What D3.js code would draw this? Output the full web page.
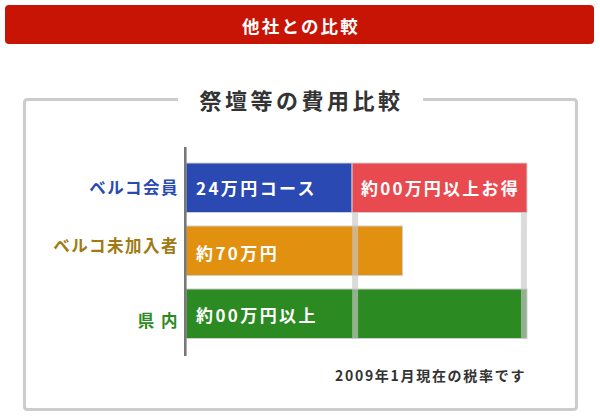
<!DOCTYPE html>
<html><head><meta charset="utf-8">
<script src="https://cdn.jsdelivr.net/npm/d3@7"></script>
<style>
html,body{margin:0;padding:0;background:#fff;}
svg{display:block;font-family:"Noto Sans CJK JP","Noto Sans",sans-serif;}
</style></head>
<body>
<svg id="c" width="600" height="420"></svg>
<script>
// ---- data ----
const headerTitle = "他社との比較";
const chartTitle = "祭壇等の費用比較";
const categories = ["ベルコ会員", "ベルコ未加入者", "県 内"];
const categoryColors = ["#2a49b2", "#a07a12", "#2c8a22"];
// bar segments, in chart units (0-100 of the axis length)
const baseValues = [48.7, 63.5, 100];
const baseLabels = ["24万円コース", "約70万円", "約00万円以上"];
const baseColors = ["#2a49b2", "#e29010", "#2c8a22"];
const extraValues = [51.3, 0, 0];      // the 'savings' segment stacked after the base
const extraLabels = ["約00万円以上お得", "", ""];
const extraColor = "#e94a50";
const gridValues = [49.6, 99.1];
const footnote = "2009年1月現在の税率です";

const svg = d3.select("#c");

// header
svg.append("rect").attr("x",5).attr("y",5).attr("width",589).attr("height",39)
  .attr("rx",4).attr("fill","#c81404");
svg.append("text").attr("x",301).attr("y",25).attr("text-anchor","middle")
  .attr("dominant-baseline","central").attr("fill","#fff")
  .attr("font-size",17.5).attr("font-weight","bold").attr("letter-spacing",2.2).text(headerTitle);

// frame
svg.append("path")
  .attr("d","M178,99.5 H27.5 Q24.5,99.5 24.5,102.5 V406.5 Q24.5,409.5 27.5,409.5 H573.5 Q576.5,409.5 576.5,406.5 V102.5 Q576.5,99.5 573.5,99.5 H423")
  .attr("fill","none").attr("stroke","#cccccc").attr("stroke-width",3);
svg.append("text").attr("x",301.5).attr("y",99).attr("text-anchor","middle")
  .attr("dominant-baseline","central").attr("fill","#333")
  .attr("font-size",22).attr("font-weight","bold").attr("letter-spacing",3.5).text(chartTitle);

// scales
const x = d3.scaleLinear().domain([0,100]).range([186,527]);
const y = d3.scaleBand().domain(categories).range([163,338.5]).paddingInner(0.214).paddingOuter(0);

const rows = categories.map((c,i)=>({c,i,base:baseValues[i],extra:extraValues[i]}));

// base bars
svg.append("g").selectAll("rect").data(rows).join("rect")
  .attr("x",x(0)).attr("y",d=>y(d.c))
  .attr("width",d=>x(d.base)-x(0)).attr("height",y.bandwidth())
  .attr("fill",d=>baseColors[d.i]).attr("stroke","#cfcfcf").attr("stroke-width",1);
// extra bars
svg.append("g").selectAll("rect").data(rows.filter(d=>d.extra>0)).join("rect")
  .attr("x",d=>x(d.base)).attr("y",d=>y(d.c))
  .attr("width",d=>x(d.base+d.extra)-x(d.base)).attr("height",y.bandwidth())
  .attr("fill",extraColor).attr("stroke","#cfcfcf").attr("stroke-width",1);

// grid lines
svg.append("g").selectAll("rect").data(gridValues).join("rect")
  .attr("x",d=>x(d)-3).attr("width",6)
  .attr("y",y(categories[0])+y.bandwidth()).attr("height",y(categories[2])+y.bandwidth()-y(categories[0])-y.bandwidth())
  .attr("fill","#c8c8c8").attr("opacity",0.65);

// axis line
svg.append("line").attr("x1",185.3).attr("x2",185.3).attr("y1",147).attr("y2",356)
  .attr("stroke","#777").attr("stroke-width",2.6);

// category labels
const catDy = [-1,-6,6];
svg.append("g").selectAll("text").data(rows).join("text")
  .attr("x",179).attr("y",d=>y(d.c)+y.bandwidth()/2+catDy[d.i])
  .attr("text-anchor","end").attr("dominant-baseline","central")
  .attr("fill",d=>categoryColors[d.i]).attr("font-size",16.5).attr("font-weight","bold")
  .attr("letter-spacing",1.5).text(d=>d.c);

// bar labels
const lblDy = [0,2,1];
svg.append("g").selectAll("text").data(rows).join("text")
  .attr("x",x(0)+10).attr("y",d=>y(d.c)+y.bandwidth()/2+lblDy[d.i])
  .attr("dominant-baseline","central").attr("fill","#fff")
  .attr("font-size",17).attr("font-weight","bold").attr("letter-spacing",2.4)
  .text(d=>baseLabels[d.i]);
svg.append("g").selectAll("text").data(rows.filter(d=>d.extra>0)).join("text")
  .attr("x",361).attr("y",d=>y(d.c)+y.bandwidth()/2)
  .attr("dominant-baseline","central").attr("fill","#fff")
  .attr("font-size",17).attr("font-weight","bold").attr("letter-spacing",2.2)
  .text(d=>extraLabels[d.i]);

// footnote
svg.append("text").attr("x",335).attr("y",375)
  .attr("dominant-baseline","central").attr("fill","#333")
  .attr("font-size",14).attr("font-weight","bold").attr("letter-spacing",1.7).text(footnote);
</script>
</body></html>
